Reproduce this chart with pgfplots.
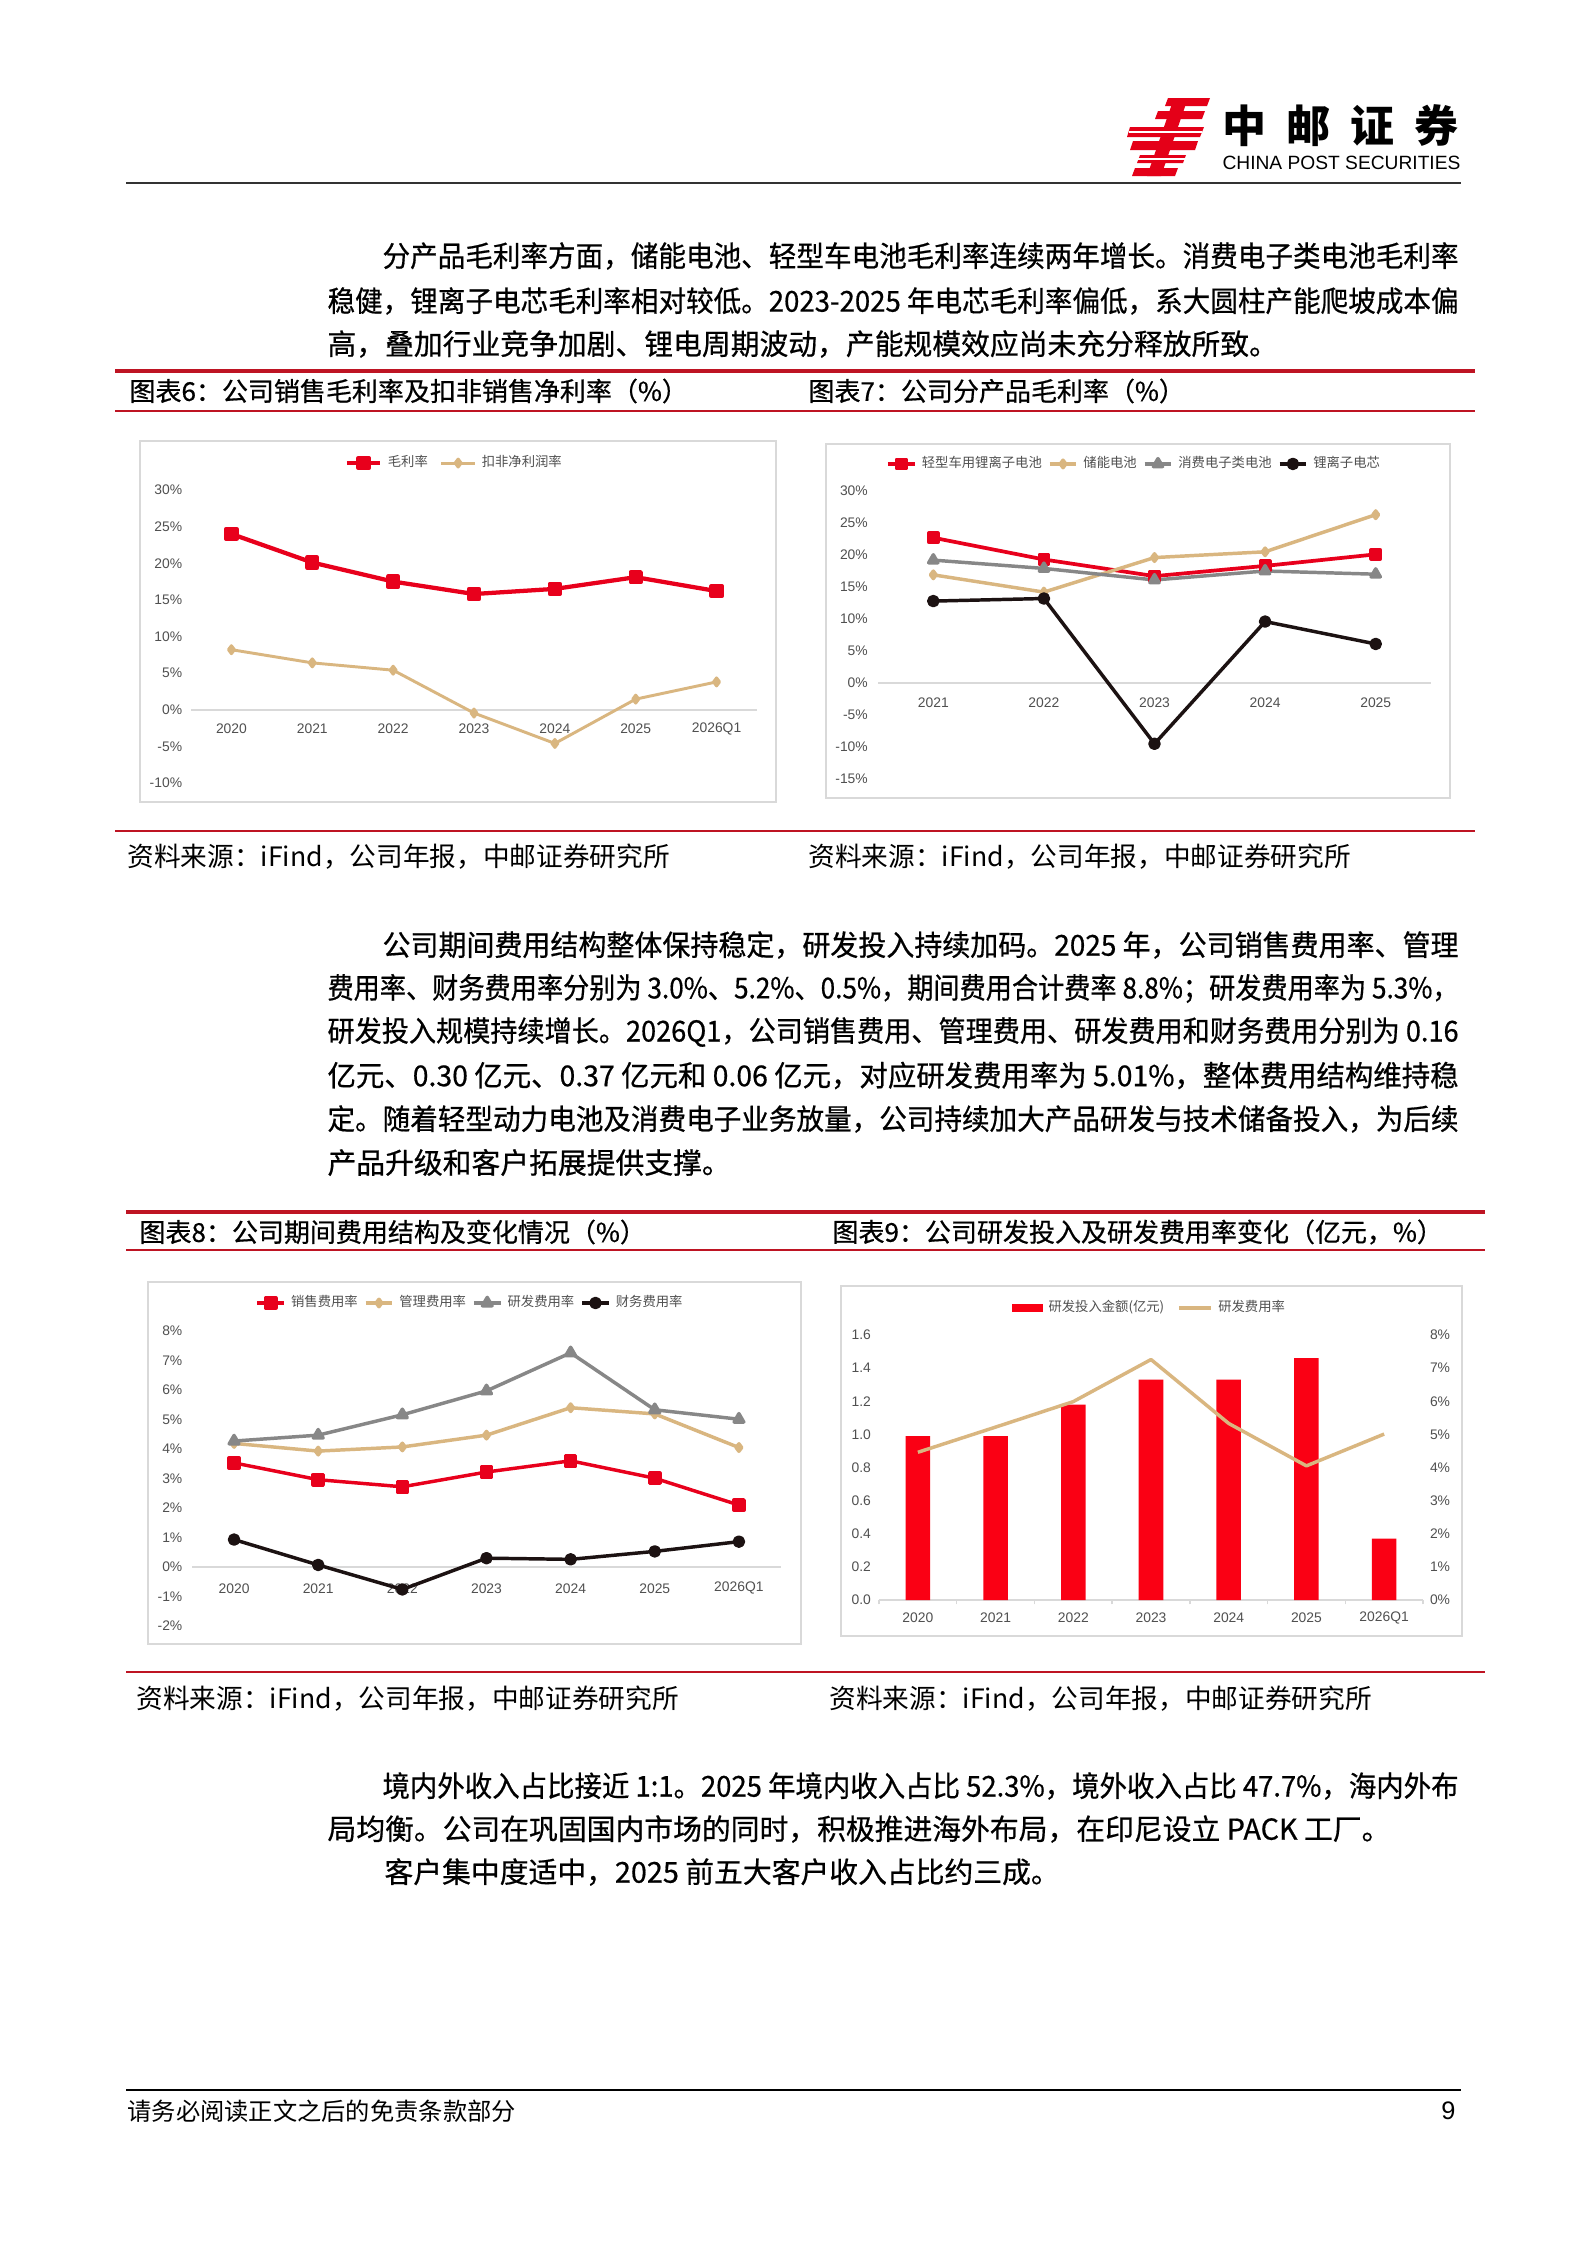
\documentclass[border=0pt]{standalone}
\usepackage{fontspec}
\setmainfont{Liberation Sans}
\newfontfamily\cjk{Noto Sans CJK SC}
\newfontfamily\cjkb[FakeBold=0.6]{Noto Sans CJK SC}
\usepackage{graphicx}
\usepackage{pgfplots}
\pgfplotsset{compat=1.18}

\XeTeXlinebreaklocale "zh"
\XeTeXlinebreakskip=0pt plus 4pt minus 0.3pt

\definecolor{cRed}{RGB}{232,0,28}
\definecolor{cTan}{RGB}{217,182,128}
\definecolor{cGray}{RGB}{135,135,135}
\definecolor{cBlack}{RGB}{28,18,18}
\definecolor{barRed}{RGB}{250,0,20}
\definecolor{capRed}{RGB}{190,20,35}
\definecolor{logoRed}{RGB}{228,0,24}
\definecolor{tickGray}{RGB}{80,80,80}
\definecolor{frameGray}{RGB}{217,217,217}

\newdimen\pxu \pxu=0.375pt
\newsavebox\jbox
\newcommand\bodyfont{\cjkb\fontsize{10.8}{13}\selectfont}
\newcommand\capfont{\cjkb\fontsize{9.75}{11}\selectfont}
\newcommand\srcfont{\cjk\fontsize{10}{11}\selectfont}
\newcommand\tickfont{\fontsize{5.2}{6}\selectfont}
\newcommand\legfont{\cjk\fontsize{5}{6}\selectfont}
\newcommand\jline[4]{%
  \node[anchor=west,inner sep=0pt] at (#1,#2) {\bodyfont\sbox\jbox{#4}%
    \ifdim\wd\jbox>#3\pxu\relax\resizebox{#3\pxu}{\height}{\usebox\jbox}\else\makebox[#3\pxu][s]{#4}\fi};}
\newcommand\pline[3]{\node[anchor=west,inner sep=0pt,font=\bodyfont] at (#1,#2) {#3};}

\pgfplotsset{
  linechart/.style={
    scale only axis, anchor=north west,
    axis x line*=middle, axis y line*=left,
    hide obscured x ticks=false, hide obscured y ticks=false,
    y axis line style={draw=none},
    x axis line style={draw=frameGray, line width=0.6pt},
    tick style={draw=none}, major tick length=0pt,
    ticklabel style={font=\tickfont, text=tickGray},
    /pgf/number format/assume math mode=true,
    yticklabel={\pgfmathprintnumber{\tick}\%},
    clip=false,
    legend style={draw=none, fill=none, font=\legfont, text=tickGray, anchor=center,
      legend columns=-1, inner sep=0pt,
      /tikz/every even column/.append style={column sep=2.5pt}},
    legend image code/.code={\draw[mark repeat=2,mark phase=2,##1] plot coordinates {(0pt,0pt)(6.3pt,0pt)(12.6pt,0pt)};},
  },
  compactlegend/.style={
    legend style={/tikz/every even column/.style={column sep=0.3pt}},
    legend image code/.code={\draw[mark repeat=2,mark phase=2,##1] plot coordinates {(0pt,0pt)(5pt,0pt)(10pt,0pt)};},
  },
}

\begin{document}
\begin{tikzpicture}
\begin{scope}[x=0.375pt,y=-0.375pt]
\path[use as bounding box, fill=white] (0,0) rectangle (1587,2245);

% ---- header logo
\fill[logoRed] (1168,98)--(1210,98)--(1207,106)--(1165,106)--cycle;
\fill[logoRed] (1158,111)--(1205,111)--(1202,119)--(1155,119)--cycle;
\fill[logoRed] (1130,127)--(1204,127)--(1200,137)--(1127,137)--cycle;
\fill[logoRed] (1133,141)--(1198,141)--(1195,150)--(1130,150)--cycle;
\fill[logoRed] (1140,155)--(1186,155)--(1183,163)--(1137,163)--cycle;
\fill[logoRed] (1135,168)--(1178,168)--(1175,176)--(1132,176)--cycle;
\fill[logoRed] (1174,98)--(1188,98)--(1161,176)--(1147,176)--cycle;
\draw[white, line width=0.5pt] (1129,132)--(1202,132);
\draw[white, line width=0.5pt] (1135,159)--(1185,159);
\node[anchor=west, inner sep=0pt, font=\cjk\bfseries\fontsize{16.5}{18}\selectfont] at (1222,126) {中\hspace{7.5pt}邮\hspace{7.5pt}证\hspace{7.5pt}券};
\node[anchor=west, inner sep=0pt, font=\fontsize{7.2}{8}\selectfont] at (1222,163) {CHINA POST SECURITIES};
\draw[line width=0.6pt, black!80] (126,183) -- (1461,183);

% ---- paragraph 1
\jline{382}{256}{1076}{分产品毛利率方面，储能电池、轻型车电池毛利率连续两年增长。消费电子类电池毛利率}
\jline{327}{301}{1131}{稳健，锂离子电芯毛利率相对较低。2023-2025 年电芯毛利率偏低，系大圆柱产能爬坡成本偏}
\pline{327}{344}{高，叠加行业竞争加剧、锂电周期波动，产能规模效应尚未充分释放所致。}

% ---- caption block 1
\draw[capRed, line width=1.5pt] (115,371)--(1475,371);
\node[anchor=west, inner sep=0pt, font=\capfont] at (129,391) {图表6：公司销售毛利率及扣非销售净利率（\%）};
\node[anchor=west, inner sep=0pt, font=\capfont] at (808,391) {图表7：公司分产品毛利率（\%）};
\draw[capRed, line width=0.75pt] (115,411)--(1475,411);
\draw[frameGray, line width=0.6pt] (140,441) rectangle (776,802);
\draw[frameGray, line width=0.6pt] (826,444) rectangle (1450,798);
\draw[capRed, line width=0.6pt] (115,831)--(1475,831);
\node[anchor=west, inner sep=0pt, font=\srcfont] at (127,857) {资料来源：iFind，公司年报，中邮证券研究所};
\node[anchor=west, inner sep=0pt, font=\srcfont] at (808,857) {资料来源：iFind，公司年报，中邮证券研究所};

% ---- paragraph 2
\jline{382}{945}{1076}{公司期间费用结构整体保持稳定，研发投入持续加码。2025 年，公司销售费用率、管理}
\jline{327}{988.5}{1131}{费用率、财务费用率分别为 3.0\%、5.2\%、0.5\%，期间费用合计费率 8.8\%；研发费用率为 5.3\%，}
\jline{327}{1032}{1131}{研发投入规模持续增长。2026Q1，公司销售费用、管理费用、研发费用和财务费用分别为 0.16}
\jline{327}{1075.5}{1131}{亿元、0.30 亿元、0.37 亿元和 0.06 亿元，对应研发费用率为 5.01\%，整体费用结构维持稳}
\jline{327}{1119}{1131}{定。随着轻型动力电池及消费电子业务放量，公司持续加大产品研发与技术储备投入，为后续}
\pline{327}{1162.5}{产品升级和客户拓展提供支撑。}

% ---- caption block 2
\draw[capRed, line width=1.5pt] (126,1212)--(1485,1212);
\node[anchor=west, inner sep=0pt, font=\capfont] at (139,1232) {图表8：公司期间费用结构及变化情况（\%）};
\node[anchor=west, inner sep=0pt, font=\capfont] at (832,1232) {图表9：公司研发投入及研发费用率变化（亿元，\%）};
\draw[capRed, line width=0.75pt] (126,1250)--(1485,1250);
\draw[frameGray, line width=0.6pt] (148,1282) rectangle (801,1644);
\draw[frameGray, line width=0.6pt] (841,1286) rectangle (1462,1636);
\draw[capRed, line width=0.6pt] (126,1672)--(1485,1672);
\node[anchor=west, inner sep=0pt, font=\srcfont] at (136,1699) {资料来源：iFind，公司年报，中邮证券研究所};
\node[anchor=west, inner sep=0pt, font=\srcfont] at (829,1699) {资料来源：iFind，公司年报，中邮证券研究所};

% ---- paragraph 3
\jline{382}{1786}{1076}{境内外收入占比接近 1:1。2025 年境内收入占比 52.3\%，境外收入占比 47.7\%，海内外布}
\pline{327}{1829}{局均衡。公司在巩固国内市场的同时，积极推进海外布局，在印尼设立 PACK 工厂。}
\pline{384}{1872}{客户集中度适中，2025 前五大客户收入占比约三成。}

% ---- footer
\draw[line width=1.1pt, black] (126,2090)--(1461,2090);
\node[anchor=west, inner sep=0pt, font=\cjk\fontsize{9.1}{10}\selectfont] at (127,2111) {请务必阅读正文之后的免责条款部分};
\node[anchor=east, inner sep=0pt, font=\fontsize{9.5}{10}\selectfont] at (1456,2111) {9};
\end{scope}

% ================= Chart 6
\begin{axis}[linechart,
  at={(71.625pt,-183.75pt)}, width=212.25pt, height=109.875pt,
  xmin=-0.5, xmax=6.5, ymin=-10, ymax=30,
  xtick={0,...,6}, xticklabels={2020,2021,2022,2023,2024,2025,2026Q1},
  ytick={-10,-5,0,5,10,15,20,25,30},
  xticklabel style={anchor=center, yshift=-7.3pt},
  yticklabel style={anchor=east, xshift=0.2pt},
  legend style={at={(0.468,1.092)}},
]
\addplot[color=cRed, line width=1.6pt, line join=round, mark=square*, mark size=1.9pt, mark options={solid}]
  coordinates {(0,24.0)(1,20.1)(2,17.5)(3,15.8)(4,16.5)(5,18.1)(6,16.2)};
\addlegendentry{毛利率}
\addplot[color=cTan, line width=1.1pt, line join=round, mark=diamond*, mark size=1.5pt, mark options={solid}]
  coordinates {(0,8.2)(1,6.4)(2,5.4)(3,-0.45)(4,-4.6)(5,1.45)(6,3.8)};
\addlegendentry{扣非净利润率}
\end{axis}

% ================= Chart 7
\begin{axis}[linechart, compactlegend,
  at={(329.25pt,-184.125pt)}, width=207.375pt, height=108pt,
  xmin=-0.5, xmax=4.5, ymin=-15, ymax=30,
  xtick={0,...,4}, xticklabels={2021,2022,2023,2024,2025},
  ytick={-15,-10,-5,0,5,10,15,20,25,30},
  xticklabel style={anchor=center, yshift=-7.4pt},
  yticklabel style={anchor=east, xshift=-0.3pt},
  legend style={at={(0.466,1.094)}},
]
\addplot[color=cRed, line width=1.4pt, line join=round, mark=square*, mark size=1.7pt, mark options={solid}]
  coordinates {(0,22.7)(1,19.3)(2,16.7)(3,18.3)(4,20.1)};
\addlegendentry{轻型车用锂离子电池}
\addplot[color=cTan, line width=1.3pt, line join=round, mark=diamond*, mark size=1.4pt, mark options={solid}]
  coordinates {(0,16.9)(1,14.2)(2,19.6)(3,20.5)(4,26.3)};
\addlegendentry{储能电池}
\addplot[color=cGray, line width=1.3pt, line join=round, mark=triangle*, mark size=2pt, mark options={solid}]
  coordinates {(0,19.2)(1,17.9)(2,16.1)(3,17.5)(4,17.0)};
\addlegendentry{消费电子类电池}
\addplot[color=cBlack, line width=1.3pt, line join=round, mark=*, mark size=1.7pt, mark options={solid}]
  coordinates {(0,12.8)(1,13.2)(2,-9.5)(3,9.6)(4,6.1)};
\addlegendentry{锂离子电芯}
\end{axis}

% ================= Chart 8
\begin{axis}[linechart, compactlegend,
  at={(72pt,-499.125pt)}, width=220.875pt, height=110.625pt,
  xmin=-0.5, xmax=6.5, ymin=-2, ymax=8,
  xtick={0,...,6}, xticklabels={2020,2021,2022,2023,2024,2025,2026Q1},
  ytick={-2,-1,0,1,2,3,4,5,6,7,8},
  xticklabel style={anchor=center, yshift=-8pt},
  yticklabel style={anchor=east, xshift=-0.1pt},
  legend style={at={(0.475,1.095)}},
]
\addplot[color=cRed, line width=1.3pt, line join=round, mark=square*, mark size=1.9pt, mark options={solid}]
  coordinates {(0,3.53)(1,2.96)(2,2.72)(3,3.22)(4,3.60)(5,3.01)(6,2.10)};
\addlegendentry{销售费用率}
\addplot[color=cTan, line width=1.3pt, line join=round, mark=diamond*, mark size=1.4pt, mark options={solid}]
  coordinates {(0,4.19)(1,3.93)(2,4.07)(3,4.47)(4,5.40)(5,5.19)(6,4.05)};
\addlegendentry{管理费用率}
\addplot[color=cGray, line width=1.3pt, line join=round, mark=triangle*, mark size=2.1pt, mark options={solid}]
  coordinates {(0,4.27)(1,4.47)(2,5.16)(3,5.97)(4,7.26)(5,5.33)(6,5.01)};
\addlegendentry{研发费用率}
\addplot[color=cBlack, line width=1.3pt, line join=round, mark=*, mark size=1.7pt, mark options={solid}]
  coordinates {(0,0.93)(1,0.07)(2,-0.76)(3,0.30)(4,0.26)(5,0.53)(6,0.86)};
\addlegendentry{财务费用率}
\end{axis}

% ================= Chart 9 (bars, left axis)
\begin{axis}[scale only axis, anchor=north west,
  at={(329.625pt,-500.625pt)}, width=204pt, height=99.375pt,
  xmin=-0.5, xmax=6.5, ymin=0, ymax=1.6,
  axis x line*=bottom, axis y line*=left,
  y axis line style={draw=none},
  x axis line style={draw=frameGray, line width=0.6pt},
  xtick={-0.5,0.5,1.5,2.5,3.5,4.5,5.5,6.5}, x tick label as interval,
  xticklabels={2020,2021,2022,2023,2024,2025,2026Q1},
  xtick style={draw=frameGray, line width=0.5pt}, ytick style={draw=none},
  major tick length=1.6pt, tick align=outside,
  ytick={0,0.2,0.4,0.6,0.8,1.0,1.2,1.4,1.6},
  ticklabel style={font=\tickfont, text=tickGray},
  /pgf/number format/assume math mode=true,
  yticklabel style={/pgf/number format/fixed, /pgf/number format/fixed zerofill, /pgf/number format/precision=1, anchor=east, xshift=2.1pt},
  xticklabel style={anchor=center, yshift=-5.15pt},
  legend style={draw=none, fill=none, font=\legfont, text=tickGray, anchor=center,
    at={(0.5,1.102)}, legend columns=-1, inner sep=0pt,
    /tikz/every even column/.append style={column sep=3pt}},
]
\addplot[ybar, bar width=9.2pt, fill=barRed, draw=none,
  legend image code/.code={\fill[barRed] (0pt,-1.6pt) rectangle (11.8pt,1.6pt);}]
  coordinates {(0,0.99)(1,0.99)(2,1.18)(3,1.33)(4,1.33)(5,1.46)(6,0.37)};
\addlegendentry{研发投入金额(亿元)}
\addlegendimage{cTan, line width=1.3pt, legend image code/.code={\draw[cTan, line width=1.3pt] (0pt,0pt)--(12pt,0pt);}}
\addlegendentry{研发费用率}
\end{axis}

% ================= Chart 9 (line, right axis)
\begin{axis}[scale only axis, anchor=north west,
  at={(329.625pt,-500.625pt)}, width=204pt, height=99.375pt,
  xmin=-0.5, xmax=6.5, ymin=0, ymax=8,
  axis x line=none, axis y line*=right,
  y axis line style={draw=none}, ytick style={draw=none},
  ytick={0,1,2,3,4,5,6,7,8},
  ticklabel style={font=\tickfont, text=tickGray},
  /pgf/number format/assume math mode=true,
  yticklabel={\pgfmathprintnumber{\tick}\%},
  yticklabel style={anchor=west, xshift=-0.9pt},
]
\addplot[color=cTan, line width=1.3pt, line join=round]
  coordinates {(0,4.46)(1,5.22)(2,5.99)(3,7.26)(4,5.33)(5,4.05)(6,5.01)};
\end{axis}
\end{tikzpicture}
\end{document}
